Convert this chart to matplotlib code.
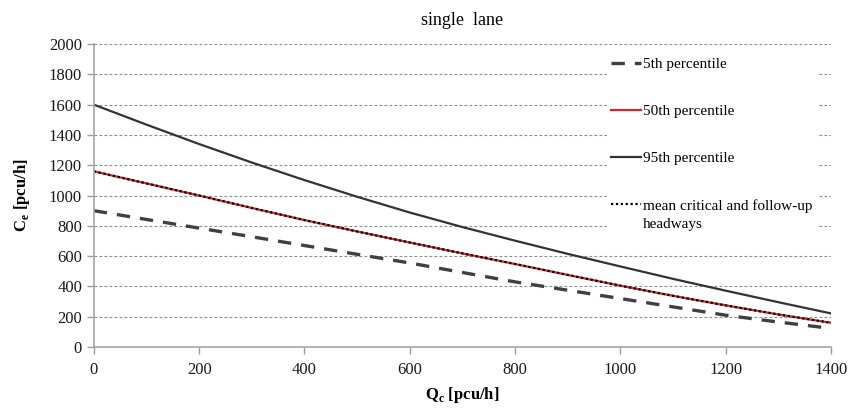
import matplotlib
matplotlib.use("Agg")
import matplotlib.pyplot as plt
import numpy as np

plt.rcParams["font.family"] = ["Liberation Serif", "DejaVu Serif"]
plt.rcParams["mathtext.fontset"] = "custom"
plt.rcParams["mathtext.rm"] = "Liberation Serif"
plt.rcParams["mathtext.bf"] = "Liberation Serif:bold"

# conflicting flow [pcu/h]
qc = [0, 100, 200, 300, 400, 500, 600, 700, 800, 900, 1000, 1100, 1200, 1300, 1400]

# entry capacity [pcu/h]
p05 = [900, 842, 785, 728, 670, 612, 555, 492, 430, 375, 320, 265, 210, 165, 123]
p50 = [1160, 1080, 1000, 918, 838, 763, 690, 618, 548, 476, 405, 338, 275, 215, 160]
p95 = [1600, 1468, 1340, 1218, 1102, 992, 888, 792, 702, 615, 532, 450, 372, 296, 222]
mean_headways = [1160, 1080, 1000, 918, 838, 763, 690, 618, 548, 476, 405, 338, 275, 215, 160]

x_ticks = [0, 200, 400, 600, 800, 1000, 1200, 1400]
y_ticks = [0, 200, 400, 600, 800, 1000, 1200, 1400, 1600, 1800, 2000]

fig = plt.figure(figsize=(8.61, 4.08), dpi=100)
ax = fig.add_axes([0.109, 0.1495, 0.856, 0.7425])

ax.plot(qc, p05, color="#404040", lw=2.4, dashes=(4, 3), label="5th percentile")
ax.plot(qc, p50, color="#d02a2a", lw=1.6, label="50th percentile")
ax.plot(qc, p95, color="#333333", lw=1.6, label="95th percentile")
ax.plot(qc, mean_headways, color="black", lw=1.6, dashes=(1, 1.2),
        label="mean critical and follow-up\nheadways")

ax.set_xlim(0, 1400)
ax.set_ylim(0, 2000)
ax.set_xticks(x_ticks)
ax.set_yticks(y_ticks)
ax.tick_params(labelsize=12, colors="#9a9a9a", labelcolor="#1a1a1a",
               direction="out", length=5, width=1)
ax.tick_params(axis="x", pad=6)

ax.grid(axis="y", color="#8c8c8c", lw=0.8, dashes=(2.5, 2))
ax.set_axisbelow(True)
for side in ["top", "right"]:
    ax.spines[side].set_visible(False)
for side in ["left", "bottom"]:
    ax.spines[side].set_color("#a6a6a6")
    ax.spines[side].set_linewidth(1.2)

ax.set_title("single  lane", fontsize=13, pad=14)
ax.set_xlabel(r"Q$_{\mathbf{c}}$ [pcu/h]", fontsize=12, fontweight="bold", labelpad=5)
ax.set_ylabel(r"C$_{\mathbf{e}}$ [pcu/h]", fontsize=12, fontweight="bold", labelpad=12)

leg = ax.legend(loc="upper left", bbox_to_anchor=(0.6855, 0.995), fontsize=11,
                frameon=True, facecolor="white", edgecolor="none", framealpha=1,
                fancybox=False, handlelength=1.95, handletextpad=0.1,
                labelspacing=2.18, borderpad=0.3)
leg.get_texts()[3].set_linespacing(1.5)
# put the last handle level with the first line of its label
last = leg.legend_handles[3]
last.set_ydata(np.asarray(last.get_ydata()) + 7.5)

fig.savefig("out.png", dpi=100)
